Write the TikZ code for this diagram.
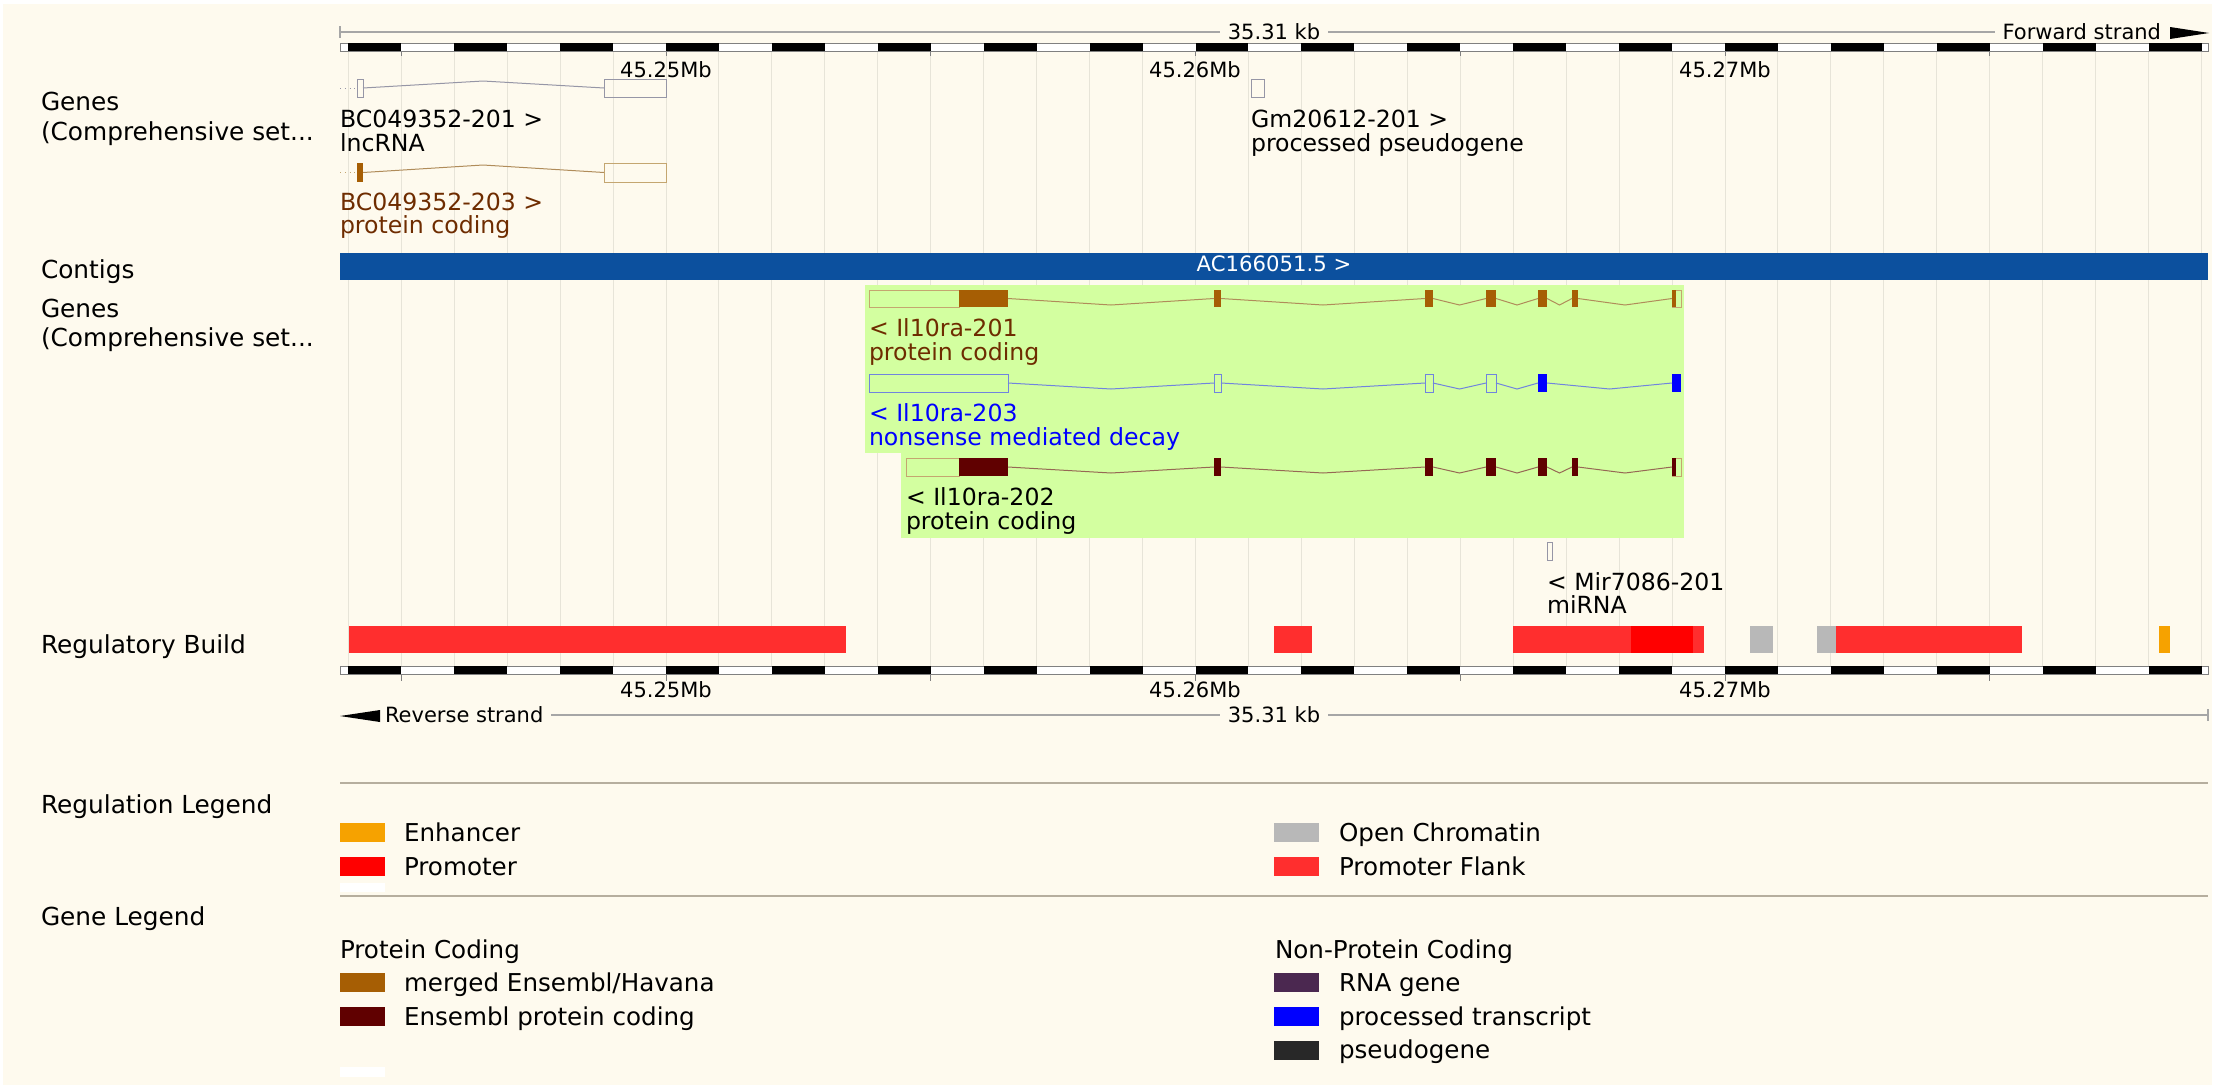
\documentclass[tikz,border=0pt]{standalone}
\usepackage{fontspec}
\setmainfont{DejaVu Sans}
\definecolor{cream}{RGB}{254,250,238}
\definecolor{gridc}{RGB}{231,228,216}
\definecolor{contig}{RGB}{12,80,158}
\definecolor{hilite}{RGB}{211,255,160}
\definecolor{merged}{RGB}{166,94,4}
\definecolor{enspc}{RGB}{96,0,0}
\definecolor{pclabel}{RGB}{110,44,0}
\definecolor{lncgray}{RGB}{150,150,166}
\definecolor{tanc}{RGB}{196,166,112}
\definecolor{tanline}{RGB}{176,140,90}
\definecolor{nmdline}{RGB}{112,132,222}
\definecolor{ensline}{RGB}{150,104,84}
\definecolor{rnagene}{RGB}{75,40,80}
\definecolor{pseudo}{RGB}{40,40,40}
\definecolor{enhancer}{RGB}{246,162,0}
\definecolor{promoter}{RGB}{255,0,0}
\definecolor{flank}{RGB}{255,46,46}
\definecolor{openchr}{RGB}{184,184,184}
\definecolor{legline}{RGB}{182,174,158}
\begin{document}
\begin{tikzpicture}[x=0.5pt, y=-0.5pt,
  every node/.style={inner sep=0pt, outer sep=0pt, font=\fontsize{11.8}{14}\selectfont},
  lbl/.style={anchor=base west},
  track/.style={anchor=base west, font=\fontsize{12.4}{15}\selectfont},
  legtxt/.style={anchor=base west, font=\fontsize{12.3}{15}\selectfont},
  small/.style={font=\fontsize{10.5}{12}\selectfont},
  mb/.style={anchor=base, small},
  gridline/.style={gridc, line width=0.5pt},
  rline/.style={gray!70, line width=0.6pt},
  lncbox/.style={draw=lncgray, line width=0.5pt},
  tanbox/.style={draw=tanc, line width=0.5pt},
  nmdbox/.style={draw=nmdline, line width=0.5pt},
  swatch/.style={minimum width=22.5pt, minimum height=9.5pt}]

\useasboundingbox (0,0) rectangle (2215,1088);
\fill[white] (0,0) rectangle (2215,1088);
\fill[cream] (3,4) rectangle (2212,1085);

% grid
\foreach \k in {0,...,35}
  \draw[gridline] ({348.3+\k*52.95},51) -- ({348.3+\k*52.95},666);

% top ruler
\draw[rline] (340,26) -- (340,38);
\node[anchor=base, small] (kbtop) at (1274,39) {35.31 kb};
\node[anchor=base east, small] (fwd) at (2161,39) {Forward strand};
\draw[rline] (340,32) -- ([xshift=-4pt]kbtop.west |- 0,32);
\draw[rline] ([xshift=4pt]kbtop.east |- 0,32) -- ([xshift=-4pt]fwd.west |- 0,32);
\fill (2170,27) -- (2209,33) -- (2170,39) -- cycle;
\draw[gray, fill=white, line width=0.5pt] (340,43) rectangle (2208,51);
\foreach \k in {0,2,...,34}
  \fill ({348.3+\k*52.95},43) rectangle ({348.3+(\k+1)*52.95},51);
\foreach \k in {-1,...,5}
  \draw[gray, line width=0.5pt] ({666+\k*264.75},51) -- ({666+\k*264.75},56);
\node[mb] (mbA) at (666,77) {45.25Mb};
\node[mb] (mbB) at (1195,77) {45.26Mb};
\node[mb] (mbC) at (1725,77) {45.27Mb};

% genes, forward strand
\node[track] (genesA) at (41,110) {Genes};
\node[track] (compA) at (41,140) {(Comprehensive set...};
\draw[lncgray, dotted] (340,88) -- (357,88);
\draw[lncbox] (357,79) rectangle (363,97);
\draw[lncgray, line width=0.5pt] (363,88) -- (483,81) -- (604,88);
\draw[lncbox] (604,79) rectangle (666,97);
\node[lbl] (bcA) at (340,127) {BC049352-201 >};
\node[lbl] (bcAt) at (340,151) {lncRNA};
\draw[tanc, dotted] (340,172.5) -- (357,172.5);
\fill[merged] (357,163) rectangle (363,182);
\draw[tanline, line width=0.5pt] (363,172.5) -- (483,165) -- (604,172.5);
\draw[tanbox] (604,163) rectangle (666,182);
\node[lbl, pclabel] (bcB) at (340,210) {BC049352-203 >};
\node[lbl, pclabel] (bcBt) at (340,233) {protein coding};
\draw[lncbox] (1251,79) rectangle (1264,97);
\node[lbl] (gm) at (1251,127) {Gm20612-201 >};
\node[lbl] (gmt) at (1251,151) {processed pseudogene};

% contigs
\node[track] (contigs) at (41,278) {Contigs};
\fill[contig] (340,253) rectangle (2208,280);
\node[anchor=base, white, font=\fontsize{10.6}{12}\selectfont] (acc) at (1274,271) {AC166051.5 >};

% genes, reverse strand
\node[track] (genesB) at (41,317) {Genes};
\node[track] (compB) at (41,346) {(Comprehensive set...};
\fill[hilite] (865,285) rectangle (1684,453);
\fill[hilite] (901,453) rectangle (1684,538);

\draw[tanbox] (869,290) rectangle (959,307);
\fill[merged] (959,290) rectangle (1008,307);
\foreach \a/\b in {1214/1221,1425/1433,1486/1496,1538/1547,1572/1578}
  \fill[merged] (\a,290) rectangle (\b,307);
\draw[tanbox] (1672,290) rectangle (1681,307);
\fill[merged] (1672,290) rectangle (1676,307);
\foreach \a/\b in {1008/1214,1221/1425,1433/1486,1496/1538,1547/1572,1578/1672}
  \draw[tanline, line width=0.5pt] (\a,298.5) -- ({(\a+\b)/2},305) -- (\b,298.5);
\node[lbl, pclabel] (ilA) at (869,336) {< Il10ra-201};
\node[lbl, pclabel] (ilAt) at (869,360) {protein coding};

\draw[nmdbox] (869,374) rectangle (1008,392);
\foreach \a/\b in {1214/1221,1425/1433,1486/1496}
  \draw[nmdbox] (\a,374) rectangle (\b,392);
\foreach \a/\b in {1538/1547,1672/1681}
  \fill[blue] (\a,374) rectangle (\b,392);
\foreach \a/\b in {1008/1214,1221/1425,1433/1486,1496/1538,1547/1672}
  \draw[nmdline, line width=0.5pt] (\a,383) -- ({(\a+\b)/2},389) -- (\b,383);
\node[lbl, blue] (ilC) at (869,421) {< Il10ra-203};
\node[lbl, blue] (ilCt) at (869,445) {nonsense mediated decay};

\draw[tanbox] (906,458) rectangle (959,476);
\fill[enspc] (959,458) rectangle (1008,476);
\foreach \a/\b in {1214/1221,1425/1433,1486/1496,1538/1547,1572/1578}
  \fill[enspc] (\a,458) rectangle (\b,476);
\draw[tanbox] (1672,458) rectangle (1681,476);
\fill[enspc] (1672,458) rectangle (1676,476);
\foreach \a/\b in {1008/1214,1221/1425,1433/1486,1496/1538,1547/1572,1578/1672}
  \draw[ensline, line width=0.5pt] (\a,467) -- ({(\a+\b)/2},473) -- (\b,467);
\node[lbl] (ilB) at (906,505) {< Il10ra-202};
\node[lbl] (ilBt) at (906,529) {protein coding};

\draw[lncbox] (1547,542) rectangle (1552,560);
\node[lbl] (mir) at (1547,590) {< Mir7086-201};
\node[lbl] (mirt) at (1547,613) {miRNA};

% regulatory build
\node[track] (reg) at (41,653) {Regulatory Build};
\fill[flank] (349,626) rectangle (846,653);
\fill[flank] (1274,626) rectangle (1312,653);
\fill[flank] (1513,626) rectangle (1704,653);
\fill[promoter] (1631,626) rectangle (1693,653);
\fill[openchr] (1750,626) rectangle (1773,653);
\fill[openchr] (1817,626) rectangle (1836,653);
\fill[flank] (1836,626) rectangle (2022,653);
\fill[enhancer] (2159,626) rectangle (2170,653);

% bottom ruler
\draw[gray, fill=white, line width=0.5pt] (340,666) rectangle (2208,674);
\foreach \k in {0,2,...,34}
  \fill ({348.3+\k*52.95},666) rectangle ({348.3+(\k+1)*52.95},674);
\foreach \k in {-1,...,5}
  \draw[gray, line width=0.5pt] ({666+\k*264.75},674) -- ({666+\k*264.75},681);
\node[mb] (mbD) at (666,697) {45.25Mb};
\node[mb] (mbE) at (1195,697) {45.26Mb};
\node[mb] (mbF) at (1725,697) {45.27Mb};
\fill (380,710) -- (340,716) -- (380,722) -- cycle;
\node[anchor=base west, small] (rev) at (385,722) {Reverse strand};
\node[anchor=base, small] (kbbot) at (1274,722) {35.31 kb};
\draw[rline] ([xshift=4pt]rev.east |- 0,715) -- ([xshift=-4pt]kbbot.west |- 0,715);
\draw[rline] ([xshift=4pt]kbbot.east |- 0,715) -- (2208,715);
\draw[rline] (2208,709) -- (2208,721);

% legends
\draw[legline, line width=1pt] (340,783) -- (2208,783);
\node[track] (reglg) at (41,813) {Regulation Legend};
\node[swatch, fill=enhancer, anchor=north west] (swEnh) at (340,823) {};
\node[legtxt] (tEnh) at (404,841) {Enhancer};
\node[swatch, fill=promoter, anchor=north west] (swPro) at (340,857) {};
\node[legtxt] (tPro) at (404,875) {Promoter};
\node[swatch, fill=openchr, anchor=north west] (swOpen) at (1274,823) {};
\node[legtxt] (tOpen) at (1339,841) {Open Chromatin};
\node[swatch, fill=flank, anchor=north west] (swFlank) at (1274,857) {};
\node[legtxt] (tFlank) at (1339,875) {Promoter Flank};
\fill[white] (340,883) rectangle (385,892);

\draw[legline, line width=1pt] (340,896) -- (2208,896);
\node[track] (genelg) at (41,925) {Gene Legend};
\node[legtxt] (pc) at (340,958) {Protein Coding};
\node[swatch, fill=merged, anchor=north west] (swMer) at (340,973) {};
\node[legtxt] (tMer) at (404,991) {merged Ensembl/Havana};
\node[swatch, fill=enspc, anchor=north west] (swEns) at (340,1007) {};
\node[legtxt] (tEns) at (404,1025) {Ensembl protein coding};
\node[legtxt] (npc) at (1275,958) {Non-Protein Coding};
\node[swatch, fill=rnagene, anchor=north west] (swRna) at (1274,973) {};
\node[legtxt] (tRna) at (1339,991) {RNA gene};
\node[swatch, fill=blue, anchor=north west] (swProc) at (1274,1007) {};
\node[legtxt] (tProc) at (1339,1025) {processed transcript};
\node[swatch, fill=pseudo, anchor=north west] (swPse) at (1274,1041) {};
\node[legtxt] (tPse) at (1339,1058) {pseudogene};
\fill[white] (340,1067) rectangle (385,1077);

\end{tikzpicture}
\end{document}
